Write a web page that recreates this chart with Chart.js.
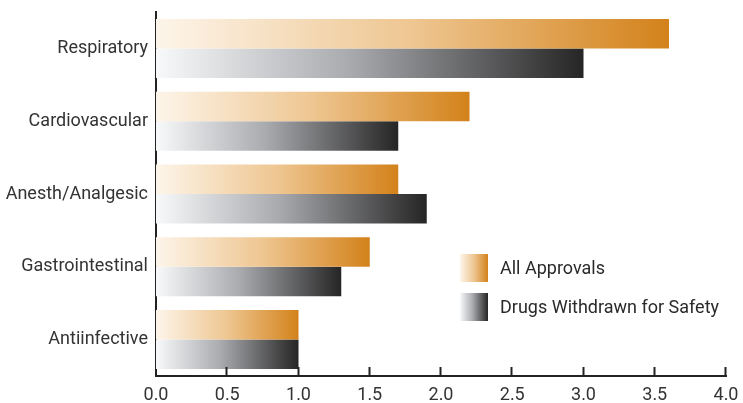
<!DOCTYPE html>
<html>
<head>
<meta charset="utf-8">
<script src="https://cdn.jsdelivr.net/npm/chart.js@4/dist/chart.umd.min.js"></script>
<style>
html,body{margin:0;padding:0;background:#fff;}
#wrap{width:743px;height:403px;position:relative;}
</style>
</head>
<body>
<div id="wrap"><canvas id="c" width="743" height="403"></canvas></div>
<script>
const categories = ["Respiratory", "Cardiovascular", "Anesth/Analgesic", "Gastrointestinal", "Antiinfective"];
const allApprovals = [3.6, 2.2, 1.7, 1.5, 1.0];
const withdrawnForSafety = [3.0, 1.7, 1.9, 1.3, 1.0];
const seriesLabels = ["All Approvals", "Drugs Withdrawn for Safety"];
const xTickValues = [0, 0.5, 1, 1.5, 2, 2.5, 3, 3.5, 4];

const FONT = "'Liberation Sans Narrow', 'Arial Narrow', 'Roboto', sans-serif";
const stopsOrange = [[0, '#fdf5ea'], [0.5, '#eec691'], [1, '#d3821a']];
const stopsGray = [[0, '#f8f9fa'], [0.45, '#aaabaf'], [1, '#252525']];

function grad(ctx2d, x0, x1, stops) {
  const g = ctx2d.createLinearGradient(x0, 0, x1, 0);
  stops.forEach(s => g.addColorStop(s[0], s[1]));
  return g;
}
function barFill(stops, fallback) {
  return function(c) {
    const chart = c.chart;
    const xs = chart.scales && chart.scales.x;
    if (!chart.chartArea || !xs || c.raw === undefined) return fallback;
    const x0 = xs.getPixelForValue(0);
    const x1 = xs.getPixelForValue(c.raw);
    if (!isFinite(x0) || !isFinite(x1) || x1 <= x0) return fallback;
    return grad(chart.ctx, x0, x1, stops);
  };
}

const upTicks = {
  id: 'upTicks',
  afterDatasetsDraw(chart) {
    const ctx = chart.ctx, xs = chart.scales.x, b = chart.chartArea.bottom;
    ctx.save();
    ctx.strokeStyle = '#222';
    ctx.lineWidth = 2;
    xTickValues.forEach(v => {
      if (v === 0) return;
      const x = Math.round(xs.getPixelForValue(v)) - 0.5;
      ctx.beginPath();
      ctx.moveTo(x, b);
      ctx.lineTo(x, b - 9);
      ctx.stroke();
    });
    ctx.restore();
  }
};

const boxLegend = {
  id: 'boxLegend',
  afterDraw(chart) {
    const ctx = chart.ctx;
    const left = 460, size = 28, tops = [254, 293];
    const stopsArr = [stopsOrange, stopsGray];
    ctx.save();
    chart.data.datasets.forEach((ds, i) => {
      ctx.fillStyle = grad(ctx, left, left + size, stopsArr[i]);
      ctx.fillRect(left, tops[i], size, size);
      ctx.fillStyle = '#2a2a2a';
      ctx.font = '18px ' + FONT;
      ctx.textBaseline = 'middle';
      ctx.textAlign = 'left';
      ctx.fillText(ds.label, left + 40, tops[i] + size / 2 + 1);
    });
    ctx.restore();
  }
};

new Chart(document.getElementById('c'), {
  type: 'bar',
  data: {
    labels: categories,
    datasets: [
      { label: seriesLabels[0], data: allApprovals, backgroundColor: barFill(stopsOrange, '#e4a85a'),
        categoryPercentage: 0.81, barPercentage: 1.0, borderWidth: 0 },
      { label: seriesLabels[1], data: withdrawnForSafety, backgroundColor: barFill(stopsGray, '#888'),
        categoryPercentage: 0.81, barPercentage: 1.0, borderWidth: 0 }
    ]
  },
  options: {
    indexAxis: 'y',
    responsive: false,
    animation: false,
    devicePixelRatio: 1,
    layout: { padding: { top: 12, right: 17, left: 0, bottom: 0 } },
    plugins: { legend: { display: false }, tooltip: { enabled: false } },
    scales: {
      x: {
        type: 'linear', min: 0, max: 4,
        afterBuildTicks: (s) => { s.ticks = xTickValues.map(v => ({ value: v })); },
        ticks: { callback: v => Number(v).toFixed(1), color: '#333', font: { family: FONT, size: 18 }, padding: 9, maxRotation: 0 },
        grid: { display: false, drawTicks: false },
        border: { display: true, color: '#222', width: 2 },
        afterFit: (s) => { s.height = 27; s.paddingLeft = 0; s.paddingRight = 0; }
      },
      y: {
        ticks: { color: '#333', font: { family: FONT, size: 18 }, padding: 8 },
        grid: { display: false, drawTicks: false },
        border: { display: true, color: '#222', width: 2 },
        afterFit: (s) => { s.width = 156; s.paddingTop = 0; s.paddingBottom = 0; }
      }
    }
  },
  plugins: [upTicks, boxLegend]
});
</script>
</body>
</html>
